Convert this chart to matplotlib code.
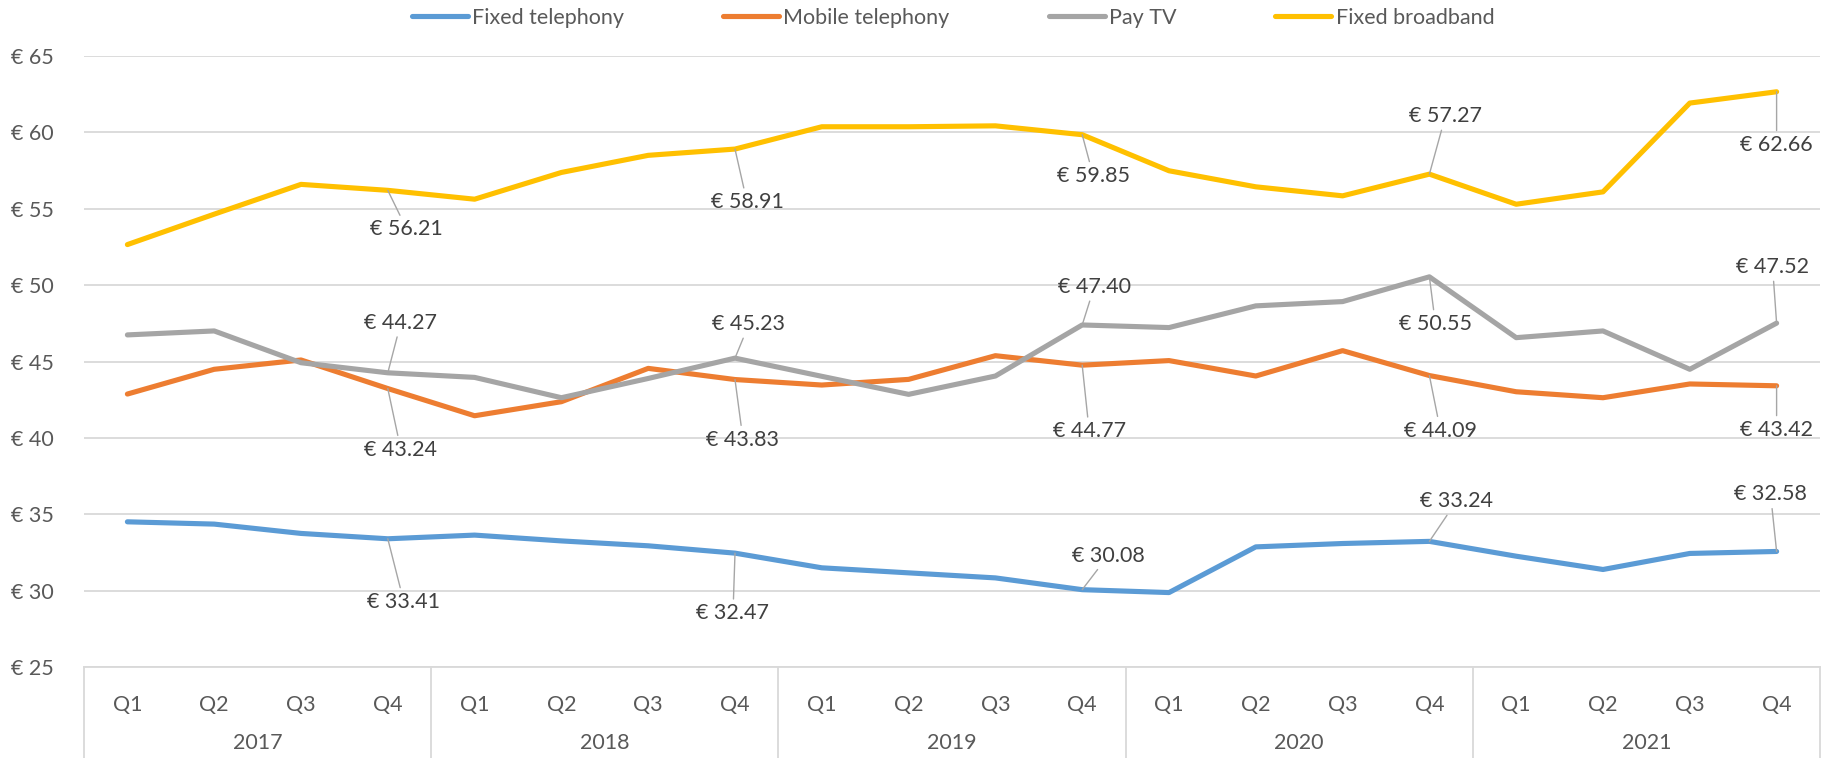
import matplotlib
matplotlib.use("Agg")
import matplotlib.pyplot as plt
from matplotlib.lines import Line2D
import matplotlib.transforms as mtransforms

plt.rcParams['font.family'] = ['Lato', 'DejaVu Sans']

years = ["2017", "2018", "2019", "2020", "2021"]
quarters = ["Q1", "Q2", "Q3", "Q4"]
series_names = ["Fixed telephony", "Mobile telephony", "Pay TV", "Fixed broadband"]
colors = ["#5B9BD5", "#ED7D31", "#A5A5A5", "#FFC000"]

fixed_tel = [34.52, 34.37, 33.76, 33.41, 33.65, 33.27, 32.95, 32.47,
             31.51, 31.18, 30.85, 30.08, 29.89, 32.88, 33.10, 33.24,
             32.27, 31.40, 32.45, 32.58]
mobile_tel = [42.88, 44.50, 45.11, 43.24, 41.46, 42.38, 44.56, 43.83,
              43.47, 43.84, 45.39, 44.77, 45.07, 44.06, 45.72, 44.09,
              43.03, 42.64, 43.54, 43.42]
pay_tv = [46.75, 47.01, 44.93, 44.27, 43.97, 42.64, 43.90, 45.23,
          44.04, 42.86, 44.06, 47.40, 47.23, 48.65, 48.93, 50.55,
          46.57, 47.01, 44.50, 47.52]
fixed_bb = [52.66, 54.65, 56.60, 56.21, 55.63, 57.38, 58.50, 58.91,
            60.37, 60.37, 60.43, 59.85, 57.49, 56.44, 55.85, 57.27,
            55.30, 56.11, 61.92, 62.66]

# label offsets (pixels) for labelled points (index, dx, dy)
label_offsets = [
    [(3, 16, -63), (7, -2, -60), (11, 26, 34), (15, 27, 40), (19, -6, 57)],
    [(3, 13, -61), (7, 8, -60), (11, 7, -66), (15, 11, -55), (19, 0, -44)],
    [(3, 13, 50), (7, 14, 34), (11, 12, 38), (15, 6, -47), (19, -4, 56)],
    [(3, 19, -39), (7, 12, -53), (11, 11, -41), (15, 16, 58), (19, 0, -53)],
]

W, H = 1833, 758
fig = plt.figure(figsize=(W / 100, H / 100), dpi=100)
left, right, top, bottom = 84, 1820, 56, 667.3
ax = fig.add_axes([left / W, 1 - bottom / H, (right - left) / W, (bottom - top) / H])

n = len(years) * len(quarters)
xs = list(range(n))
data = [fixed_tel, mobile_tel, pay_tv, fixed_bb]

grid_c = "#D9D9D9"
txt_c = "#595959"
lbl_c = "#404040"
fs = 15.5

for name, vals, c in zip(series_names, data, colors):
    ax.plot(xs, vals, color=c, lw=3.7, label=name, solid_capstyle='round',
            solid_joinstyle='round', zorder=3)

for vals, offs in zip(data, label_offsets):
    for i, dx, dy in offs:
        ax.annotate(f"€ {vals[i]:.2f}", xy=(i, vals[i]), xytext=(dx, dy),
                    textcoords='offset pixels', ha='center', va='center',
                    fontsize=fs, color=lbl_c, zorder=5,
                    arrowprops=dict(arrowstyle='-', color='#A6A6A6', lw=1.0,
                                    shrinkA=1, shrinkB=0))

ax.set_xlim(-0.5, n - 0.5)
ax.set_ylim(25, 65)
ax.set_yticks(range(25, 66, 5))
ax.set_yticklabels([f"€ {v}" for v in range(25, 66, 5)])
ax.yaxis.grid(True, color=grid_c, lw=1.3)
ax.set_axisbelow(True)
for s in ["top", "right", "left"]:
    ax.spines[s].set_visible(False)
ax.spines["bottom"].set_color(grid_c)
ax.spines["bottom"].set_linewidth(1.3)
ax.tick_params(axis='y', length=0, pad=22, labelsize=fs, labelcolor=txt_c)

ax.set_xticks(xs)
ax.set_xticklabels(quarters * len(years))
ax.tick_params(axis='x', length=0, pad=20, labelsize=fs, labelcolor=txt_c)

trans = mtransforms.blended_transform_factory(ax.transData, ax.transAxes)
ax_h = bottom - top
ext = -(H - bottom) / ax_h
for k in range(len(years) + 1):
    xv = k * 4 - 0.5
    ax.add_line(Line2D([xv, xv], [0, ext], transform=trans, color=grid_c,
                       lw=1.3, clip_on=False))
for k, y in enumerate(years):
    ax.text(k * 4 + 1.5, -(743 - bottom) / ax_h, y, transform=trans,
            ha='center', va='center', fontsize=fs, color=txt_c)

fig.legend(loc='center', bbox_to_anchor=(953 / W, 1 - 17.5 / H), ncol=4,
           frameon=False, handlelength=2.6, handletextpad=0.2,
           columnspacing=4.6, fontsize=fs, labelcolor=txt_c)

fig.savefig("out.png", dpi=100)
